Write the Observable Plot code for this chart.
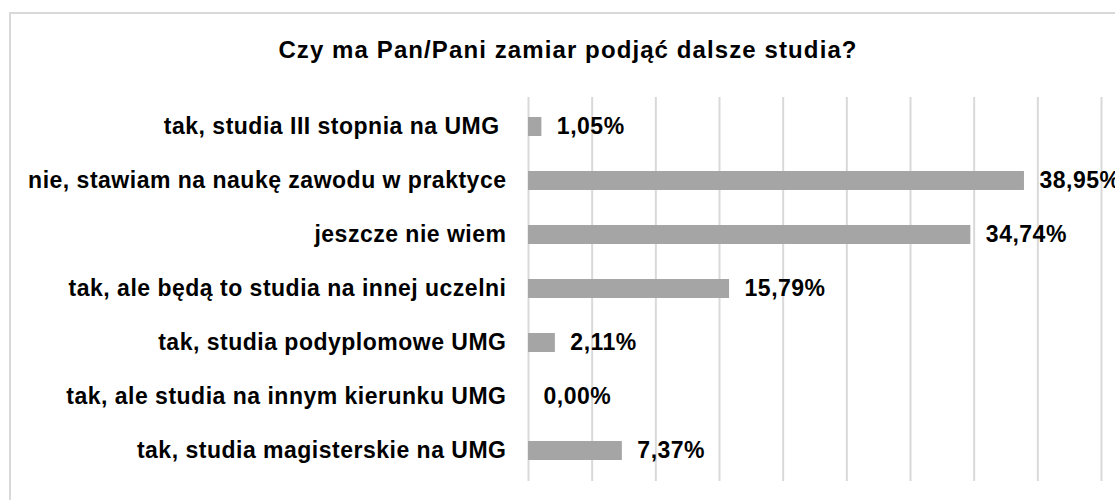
<!DOCTYPE html>
<html>
<head>
<meta charset="utf-8">
<script src="https://cdn.jsdelivr.net/npm/d3@7"></script>
<script src="https://cdn.jsdelivr.net/npm/@observablehq/plot@0.6"></script>
<style>
  html, body { margin: 0; padding: 0; background: #fff; }
  #wrap { position: relative; width: 1115px; height: 500px; overflow: hidden; background: #fff; }
  #frame { position: absolute; left: 9px; top: 12px; width: 1200px; height: 600px; border: 2px solid #d9d9d9; box-sizing: border-box; }
  #title { position: relative; width: 1136px; height: 80px; box-sizing: border-box; padding-top: 38px; line-height: 24px;
           text-align: center; font-family: "Liberation Sans", Arial, sans-serif; font-weight: bold; font-size: 24px; letter-spacing: 1.1px; color: #000; }
  #chart { position: relative; }
</style>
</head>
<body>
<div id="wrap">
  <div id="frame"></div>
  <div id="title">Czy ma Pan/Pani zamiar podjąć dalsze studia?</div>
  <div id="chart"></div>
</div>
<script>
const categories = [
  "tak, studia III stopnia na UMG ",
  "nie, stawiam na naukę zawodu w praktyce",
  "jeszcze nie wiem",
  "tak, ale będą to studia na innej uczelni",
  "tak, studia podyplomowe UMG",
  "tak, ale studia na innym kierunku UMG",
  "tak, studia magisterskie na UMG"
];
const values = [1.05, 38.95, 34.74, 15.79, 2.11, 0.00, 7.37];
const gridTicks = [0, 5, 10, 15, 20, 25, 30, 35, 40, 45];

const data = categories.map((c, i) => ({category: c, value: values[i]}));
const fmt = v => v.toFixed(2).replace(".", ",") + "%";

const plot = Plot.plot({
  width: 1115,
  height: 420,
  marginTop: 17,
  marginBottom: 19,
  marginLeft: 528,
  marginRight: 14,
  style: {
    fontFamily: "'Liberation Sans', Arial, sans-serif",
    fontSize: "23px",
    fontWeight: "bold",
    background: "none",
    color: "#000",
    overflow: "visible"
  },
  x: {domain: [0, 45], axis: null},
  y: {domain: categories, axis: null, paddingInner: 0.645, paddingOuter: 0.3225},
  marks: [
    Plot.ruleX(gridTicks, {stroke: "#d9d9d9", strokeWidth: 2}),
    Plot.barX(data, {x: "value", y: "category", fill: "#a5a5a5"}),
    Plot.text(data, {x: "value", y: "category", text: d => fmt(d.value), textAnchor: "start", dx: 15, fill: "#000"}),
    Plot.axisY({tickSize: 0, tickPadding: 22, label: null, fill: "#000"})
  ]
});
plot.style.letterSpacing = "0.5px";
document.getElementById("chart").appendChild(plot);
</script>
</body>
</html>
